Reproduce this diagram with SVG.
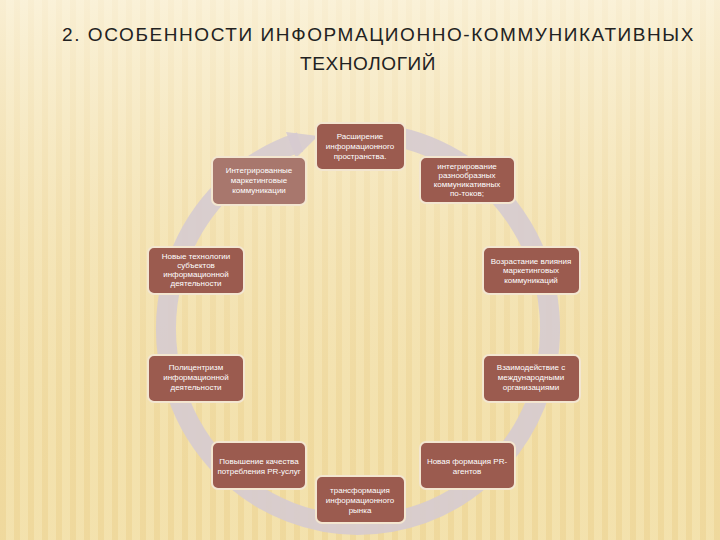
<svg xmlns="http://www.w3.org/2000/svg" width="720" height="540" viewBox="0 0 720 540">
<defs>
<pattern id="st" width="14" height="540" patternUnits="userSpaceOnUse"><rect width="14" height="540" fill="#f6e7b8"/><rect width="6" height="540" fill="#f1dca4"/></pattern>
<linearGradient id="bg" x1="0" y1="0" x2="0" y2="1"><stop offset="0" stop-color="#fcf6e6" stop-opacity="0.7"/><stop offset="1" stop-color="#e8cc80" stop-opacity="0.2"/></linearGradient>
</defs>
<style>
.n rect{fill:#9b5b4f;stroke:#f3e6d0;stroke-width:2}
.n text{fill:#fff;font-family:"Liberation Sans",Arial,sans-serif;font-size:8px;text-anchor:middle}
.t{font-family:"Liberation Sans",Arial,sans-serif;font-size:19px;fill:#222;text-anchor:middle;letter-spacing:0.6px}
</style>
<rect width="720" height="540" fill="url(#st)"/>
<rect width="720" height="540" fill="url(#bg)"/>
<text class="t" x="378" y="41" textLength="632" lengthAdjust="spacing">2. ОСОБЕННОСТИ ИНФОРМАЦИОННО-КОММУНИКАТИВНЫХ</text>
<text class="t" x="368" y="70">ТЕХНОЛОГИЙ</text>
<g id="connectors">
<path d="M 300 142 A 192 196 0 1 0 350 133" fill="none" stroke="#d6cbd0" stroke-width="20" opacity="0.9"/>
<polygon points="286,132 318,136 296,158" fill="#d6cbd0" opacity="0.9"/>
</g>
<g id="n1" class="n"><rect x="316" y="123" width="89" height="47" rx="6"/><text x="360" y="139">Расширение</text><text x="360" y="149">информационного</text><text x="360" y="159">пространства.</text></g>
<g id="n2" class="n"><rect x="212" y="157" width="94" height="48" rx="6" style="fill:#a8776d"/><text x="259" y="173">Интегрированные</text><text x="259" y="183">маркетинговые</text><text x="259" y="193">коммуникации</text></g>
<g id="n3" class="n"><rect x="420" y="157" width="95" height="46" rx="6"/><text x="467" y="169">интегрирование</text><text x="467" y="178">разнообразных</text><text x="467" y="187">коммуникативных</text><text x="467" y="196">по-токов;</text></g>
<g id="n4" class="n"><rect x="148" y="247" width="96" height="47" rx="6"/><text x="196" y="259">Новые технологии</text><text x="196" y="268">субъектов</text><text x="196" y="277">информационной</text><text x="196" y="286">деятельности</text></g>
<g id="n5" class="n"><rect x="483" y="247" width="97" height="47" rx="6"/><text x="531" y="264">Возрастание влияния</text><text x="531" y="273">маркетинговых</text><text x="531" y="283">коммуникаций</text></g>
<g id="n6" class="n"><rect x="148" y="355" width="96" height="47" rx="6"/><text x="196" y="370">Полицентризм</text><text x="196" y="380">информационной</text><text x="196" y="390">деятельности</text></g>
<g id="n7" class="n"><rect x="483" y="355" width="97" height="47" rx="6"/><text x="531" y="370">Взаимодействие с</text><text x="531" y="380">международными</text><text x="531" y="390">организациями</text></g>
<g id="n8" class="n"><rect x="212" y="442" width="94" height="47" rx="6"/><text x="259" y="464">Повышение качества</text><text x="259" y="474">потребления PR-услуг</text></g>
<g id="n9" class="n"><rect x="420" y="442" width="95" height="47" rx="6"/><text x="467" y="464">Новая формация PR-</text><text x="467" y="474">агентов</text></g>
<g id="n10" class="n"><rect x="316" y="476" width="89" height="47" rx="6"/><text x="360" y="493">трансформация</text><text x="360" y="503">информационного</text><text x="360" y="513">рынка</text></g>
</svg>
